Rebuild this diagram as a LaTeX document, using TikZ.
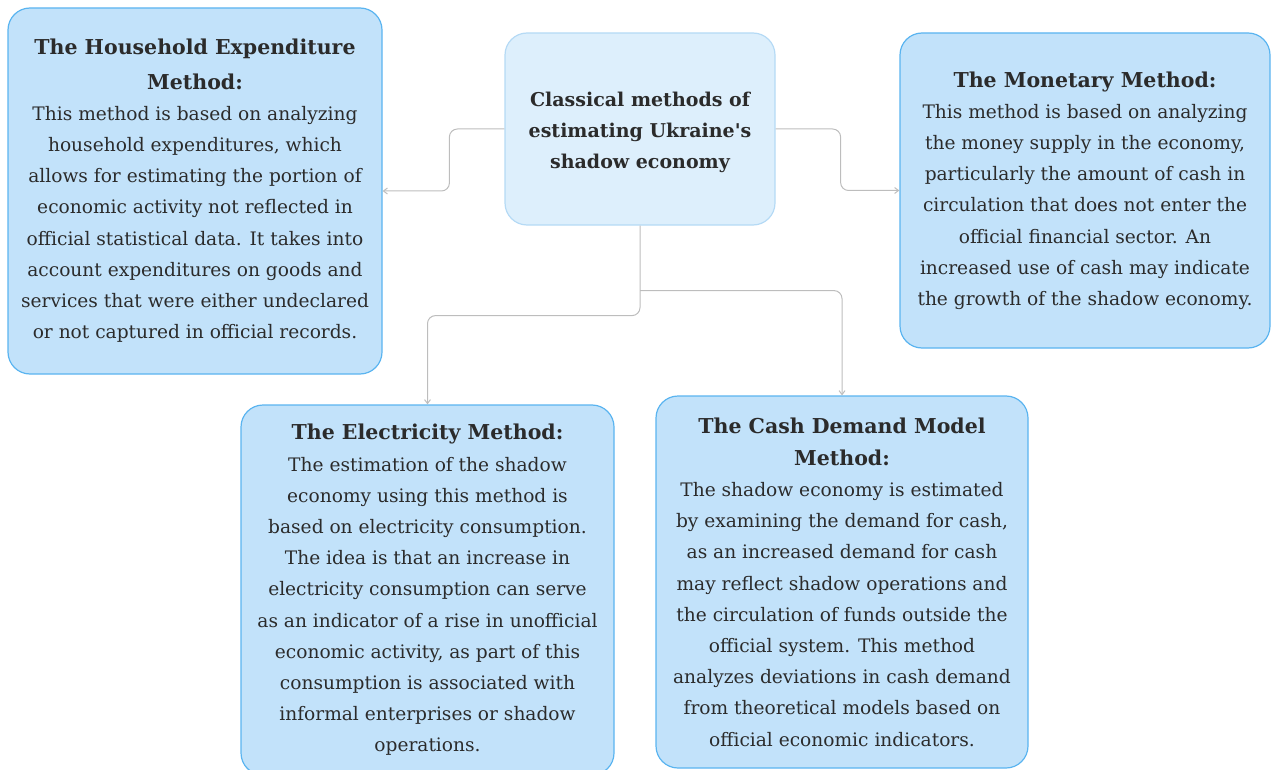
\documentclass[tikz,border=0pt]{standalone}
\usepackage{fontspec}
\setmainfont{DejaVu Serif}
\usetikzlibrary{arrows.meta,calc}
\definecolor{boxfill}{HTML}{C2E2FA}
\definecolor{boxline}{HTML}{5AB4F0}
\definecolor{cfill}{HTML}{DDEFFC}
\definecolor{cline}{HTML}{B5DAF5}
\definecolor{txt}{HTML}{2B2B2B}
\definecolor{conncol}{HTML}{BDBDBD}
\newcommand{\ttl}[1]{{\fontsize{20.5}{31.2}\selectfont\bfseries #1}}
\tikzset{
  mbox/.style={draw=boxline, fill=boxfill, line width=1.2pt, rounded corners=22pt, align=center, text=txt, inner sep=0pt,
    font=\fontsize{18.6}{31.2}\selectfont},
  cbox/.style={draw=cline, fill=cfill, line width=1.2pt, rounded corners=22pt, inner sep=0pt},
  ctext/.style={align=center, text=txt, inner sep=0pt, font=\fontsize{19}{31}\selectfont\bfseries},
  conn/.style={draw=conncol, line width=1pt, rounded corners=8pt, -{Straight Barb[length=4pt,width=6pt]}}
}
\begin{document}
\begin{tikzpicture}[x=1pt,y=-1pt]
\useasboundingbox (0,0) rectangle (1271,770);
\begin{scope}
\clip (0,0) rectangle (1271,770);
\node[mbox, minimum width=374pt, minimum height=366pt] (h) at (195,191)
 {\ttl{The Household Expenditure}\\[3pt]\ttl{Method:}\\This method is based on analyzing\\household expenditures, which\\allows for estimating the portion of\\economic activity not reflected in\\official statistical data. It takes into\\account expenditures on goods and\\services that were either undeclared\\or not captured in official records.};
\node[cbox, minimum width=270pt, minimum height=192pt] (c) at (640,129) {};
\node[ctext] (ct) at (640,132)
 {Classical methods of\\estimating Ukraine\textquotesingle s\\shadow economy};
\node[mbox, minimum width=370pt, minimum height=315pt] (m) at (1085,190.5)
 {\ttl{The Monetary Method:}\\This method is based on analyzing\\the money supply in the economy,\\particularly the amount of cash in\\circulation that does not enter the\\official financial sector. An\\increased use of cash may indicate\\the growth of the shadow economy.};
\node[mbox, minimum width=373pt, minimum height=370pt] (e) at (427.5,590)
 {\ttl{The Electricity Method:}\\The estimation of the shadow\\economy using this method is\\based on electricity consumption.\\The idea is that an increase in\\electricity consumption can serve\\as an indicator of a rise in unofficial\\economic activity, as part of this\\consumption is associated with\\informal enterprises or shadow\\operations.};
\node[mbox, minimum width=372pt, minimum height=372pt] (k) at (842,582)
 {\ttl{The Cash Demand Model}\\[1pt]\ttl{Method:}\\The shadow economy is estimated\\by examining the demand for cash,\\as an increased demand for cash\\may reflect shadow operations and\\the circulation of funds outside the\\official system. This method\\analyzes deviations in cash demand\\from theoretical models based on\\official economic indicators.};
\end{scope}
\draw[conn] (c.west) -- ++(-55,0) |- (h.east);
\draw[conn] (c.east) -- ++(65,0) |- (m.west);
\draw[conn] (c.south) -- ++(0,90) -| (e.north);
\draw[conn] ([yshift=-65pt]c.south) -| (k.north);
\end{tikzpicture}
\end{document}
